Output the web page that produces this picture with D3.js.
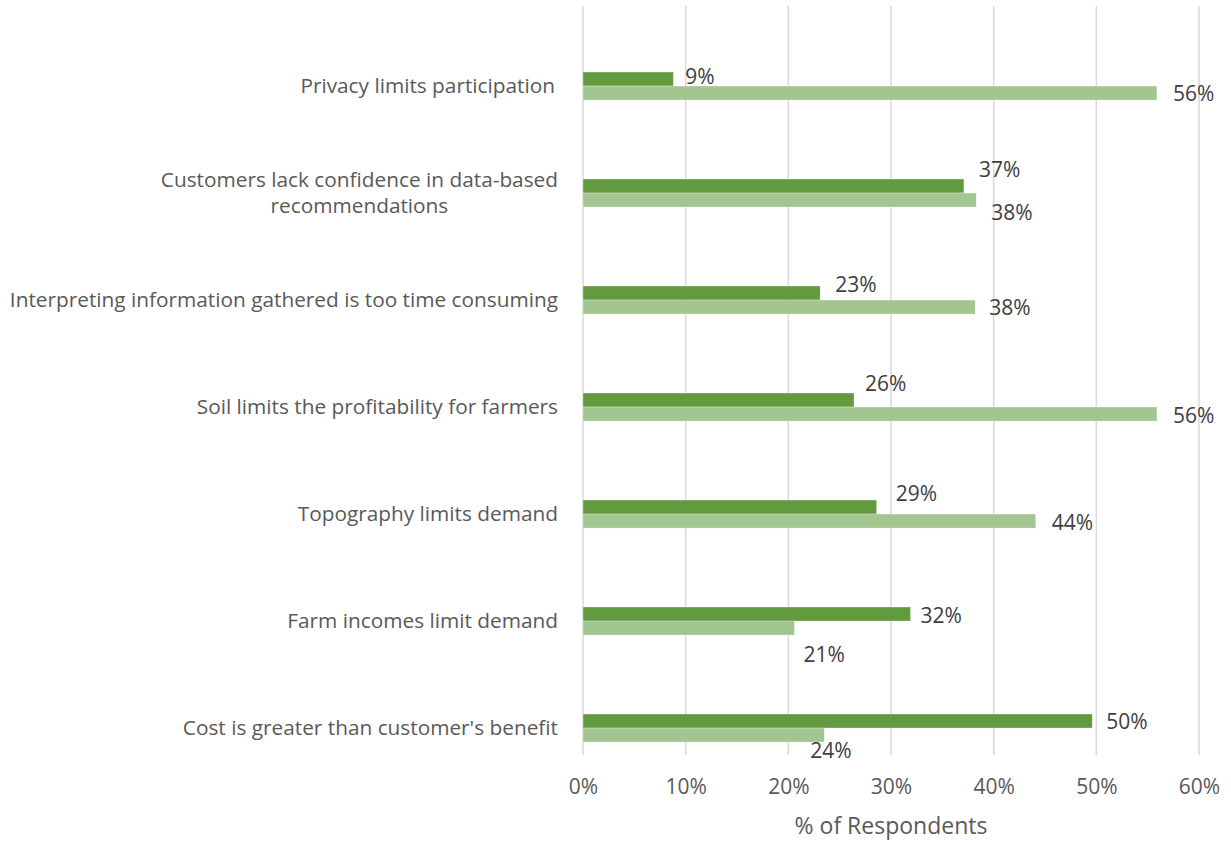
<!DOCTYPE html>
<html>
<head>
<meta charset="utf-8">
<script src="https://cdn.jsdelivr.net/npm/d3@7"></script>
<style>
  html, body { margin: 0; padding: 0; background: #ffffff; }
  svg { display: block; }
  text { font-family: "Open Sans", "Noto Sans", sans-serif; }
</style>
</head>
<body>
<svg id="chart" width="1231" height="841"></svg>
<script>
// ---- data ----
const categories = [
  ["Privacy limits participation"],
  ["Customers lack confidence in data-based", "recommendations"],
  ["Interpreting information gathered is too time consuming"],
  ["Soil limits the profitability for farmers"],
  ["Topography limits demand"],
  ["Farm incomes limit demand"],
  ["Cost is greater than customer's benefit"]
];
const seriesDark  = [8.8, 37.1, 23.1, 26.4, 28.6, 31.9, 49.6];
const seriesLight = [55.9, 38.3, 38.2, 55.9, 44.1, 20.6, 23.5];
const labelsDark  = ["9%", "37%", "23%", "26%", "29%", "32%", "50%"];
const labelsLight = ["56%", "38%", "38%", "56%", "44%", "21%", "24%"];
const xTicks = [0, 10, 20, 30, 40, 50, 60];
const xTickLabels = ["0%", "10%", "20%", "30%", "40%", "50%", "60%"];
const axisTitle = "% of Respondents";

// ---- layout (label nudges, px) ----
const darkLabelDx  = [12, 15, 15, 11, 19, 10, 14];
const darkLabelDy  = [-2.5, -17, -8.5, -17, -14, 1, 0];
const lightLabelDx = [16, 15, 14, 16, 16, 9, -14];
const lightLabelDy = [0, 12, 0, 1, 1, 26, 15];
const catRightPad  = [3, 0, 0, 0, 0, 0, 0];

const colDark = "#629b3e", colLight = "#a3c58f";
const textCol = "#595959";

const svg = d3.select("#chart");
const x = d3.scaleLinear().domain([0, 60]).range([583, 1199]);
const y = d3.scaleBand().domain(d3.range(categories.length)).range([6, 755]).paddingInner(0).paddingOuter(0);
const bw = y.bandwidth();
const darkOff = 0.617 * bw, barH = 0.131 * bw, lightOff = darkOff + barH;

// gridlines
svg.append("g").selectAll("line").data(xTicks).join("line")
  .attr("x1", d => x(d)).attr("x2", d => x(d))
  .attr("y1", y.range()[0]).attr("y2", y.range()[1])
  .attr("stroke", "#d9d9d9").attr("stroke-width", 1.5);

// x axis labels via d3 axis
const xAxis = d3.axisBottom(x).tickValues(xTicks).tickFormat((d, i) => xTickLabels[i]).tickSize(0).tickPadding(0);
const gx = svg.append("g").attr("transform", "translate(0,781)").call(xAxis);
gx.select(".domain").remove();
gx.selectAll("text").attr("font-size", 21).attr("fill", textCol)
  .attr("font-family", "'Open Sans', sans-serif").attr("dy", "0.35em").attr("y", 6);

svg.append("text").attr("x", 891).attr("y", 826).attr("dy", "0.35em")
  .attr("text-anchor", "middle").attr("font-size", 23).attr("fill", textCol).text(axisTitle);

// bars
const g = svg.append("g");
g.selectAll("rect.dark").data(seriesDark).join("rect").attr("class", "dark")
  .attr("x", x(0)).attr("y", (d, i) => y(i) + darkOff)
  .attr("width", d => x(d) - x(0)).attr("height", barH)
  .attr("fill", colDark).attr("stroke", "#ffffff").attr("stroke-width", 0.6).attr("stroke-opacity", 0.5);
g.selectAll("rect.light").data(seriesLight).join("rect").attr("class", "light")
  .attr("x", x(0)).attr("y", (d, i) => y(i) + lightOff)
  .attr("width", d => x(d) - x(0)).attr("height", barH)
  .attr("fill", colLight).attr("stroke", "#ffffff").attr("stroke-width", 0.6).attr("stroke-opacity", 0.5);

// value labels
g.selectAll("text.dl").data(seriesDark).join("text").attr("class", "dl")
  .attr("x", (d, i) => x(d) + darkLabelDx[i])
  .attr("y", (d, i) => y(i) + darkOff + barH / 2 + darkLabelDy[i])
  .attr("dy", "0.36em").attr("font-size", 21).attr("fill", "#404040")
  .text((d, i) => labelsDark[i]);
g.selectAll("text.ll").data(seriesLight).join("text").attr("class", "ll")
  .attr("x", (d, i) => x(d) + lightLabelDx[i])
  .attr("y", (d, i) => y(i) + lightOff + barH / 2 + lightLabelDy[i])
  .attr("dy", "0.36em").attr("font-size", 21).attr("fill", "#404040")
  .text((d, i) => labelsLight[i]);

// category labels (right aligned block, lines centred within block)
const rightEdge = 558, lineH = 26;
categories.forEach((lines, i) => {
  const cy = y(i) + lightOff;
  const t = svg.append("text").attr("font-size", 20.8).attr("fill", textCol).attr("text-anchor", "middle");
  const spans = lines.map((ln, k) => t.append("tspan").text(ln)
      .attr("y", cy + (k - (lines.length - 1) / 2) * lineH).attr("dy", "0.35em"));
  let maxW = 0;
  spans.forEach(s => { maxW = Math.max(maxW, s.node().getComputedTextLength()); });
  spans.forEach(s => s.attr("x", rightEdge - catRightPad[i] - maxW / 2));
});
</script>
</body>
</html>
